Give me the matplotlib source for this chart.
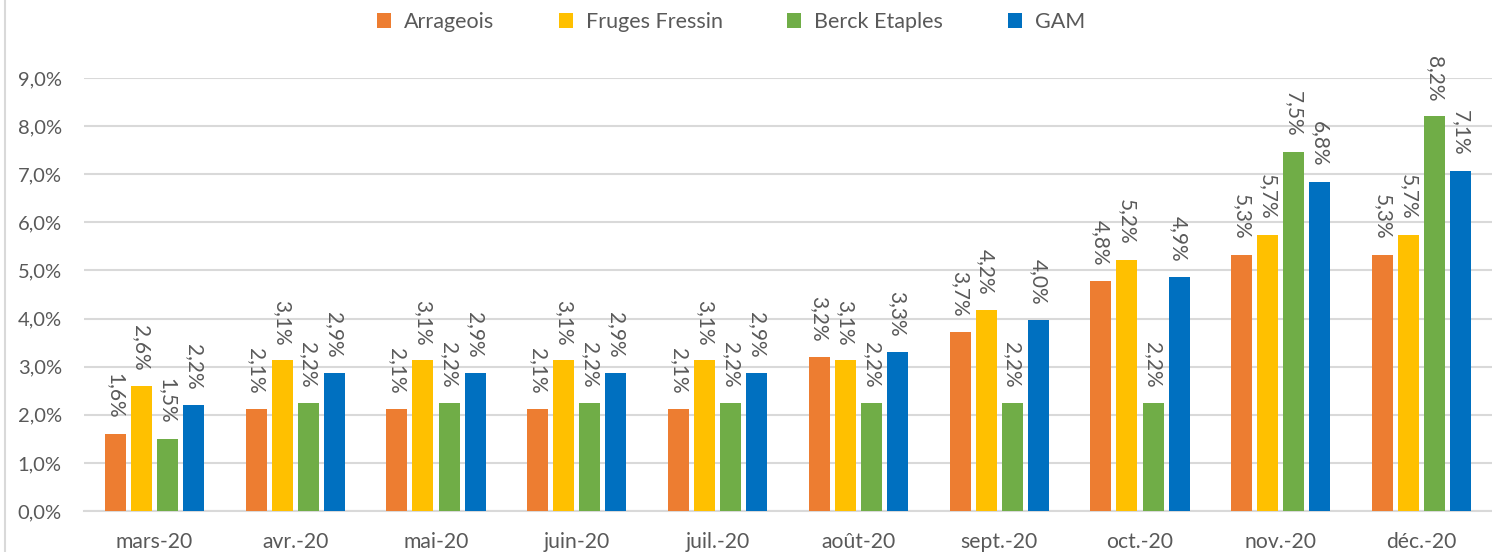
import matplotlib
matplotlib.use('Agg')
import matplotlib.pyplot as plt
import numpy as np
from matplotlib.lines import Line2D

months = ['mars-20', 'avr.-20', 'mai-20', 'juin-20', 'juil.-20', 'août-20',
          'sept.-20', 'oct.-20', 'nov.-20', 'déc.-20']
series = ['Arrageois', 'Fruges Fressin', 'Berck Etaples', 'GAM']
arrageois = [1.6, 2.13, 2.13, 2.13, 2.13, 3.2, 3.72, 4.79, 5.32, 5.32]
fruges = [2.6, 3.13, 3.13, 3.13, 3.13, 3.13, 4.17, 5.21, 5.73, 5.73]
berck = [1.5, 2.24, 2.24, 2.24, 2.24, 2.24, 2.24, 2.24, 7.46, 8.2]
gam = [2.2, 2.87, 2.87, 2.87, 2.87, 3.31, 3.98, 4.86, 6.84, 7.06]
colors = ['#ED7D31', '#FFC000', '#70AD47', '#0070C0']

plt.rcParams['font.family'] = ['Lato', 'DejaVu Sans']
grey = '#595959'

fig = plt.figure(figsize=(14.92, 5.52), dpi=100)
ax = fig.add_axes([84/1492, 1-511/552, 1-84/1492, (511-78)/552])

x = np.arange(len(months))
w = 0.149
step = 0.185
data = [arrageois, fruges, berck, gam]
for i, vals in enumerate(data):
    pos = x + (i - 1.5) * step
    ax.bar(pos, vals, width=w, color=colors[i], label=series[i], zorder=3)
    for px, v in zip(pos, vals):
        ax.annotate(('%.1f%%' % v).replace('.', ','), (px, v),
                    xytext=(0, 11), textcoords='offset points',
                    rotation=-90, ha='center', va='bottom',
                    fontsize=15, color=grey)

ax.set_xlim(-0.5, len(months) - 0.5)
ax.set_ylim(0, 9)
ax.set_yticks(np.arange(0, 10, 1))
ax.set_yticklabels([('%.1f%%' % t).replace('.', ',') for t in range(10)])
ax.set_xticks(x)
ax.set_xticklabels(months)
ax.tick_params(axis='y', length=0, pad=16, labelsize=14.5, labelcolor=grey)
ax.tick_params(axis='x', length=0, pad=15, labelsize=15.2, labelcolor=grey)
ax.grid(axis='y', color='#d9d9d9', linewidth=1.5, zorder=0)
for s in ['top', 'right', 'left']:
    ax.spines[s].set_visible(False)
ax.spines['bottom'].set_color('#d9d9d9')
ax.spines['bottom'].set_linewidth(1.5)

fig.legend(loc='center', bbox_to_anchor=(0.49, 1-22/552), ncol=4, frameon=False,
           fontsize=15.5, labelcolor=grey, handlelength=0.65, handleheight=0.65,
           handletextpad=0.6, columnspacing=3.0)

fig.add_artist(Line2D([5/1492, 5/1492], [0, 1], color='#d9d9d9', linewidth=1.5,
                      transform=fig.transFigure))

fig.savefig('out.png', dpi=100)
